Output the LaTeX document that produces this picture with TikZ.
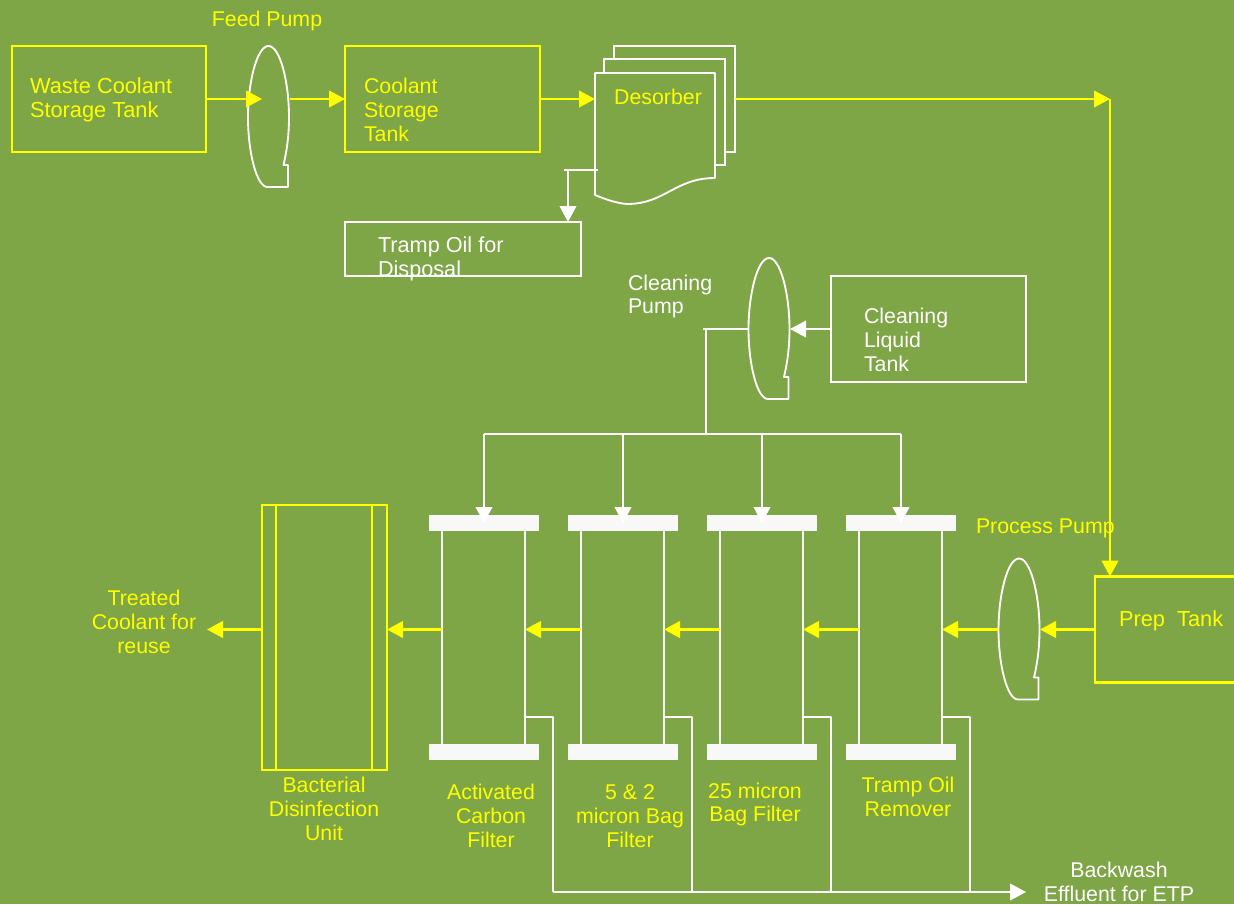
\documentclass[tikz,border=0pt]{standalone}
\usepackage{fontspec}
\setmainfont{Liberation Sans}
\usetikzlibrary{arrows.meta}
\definecolor{bgreen}{HTML}{7EA546}
\definecolor{yel}{HTML}{FFFF00}
\definecolor{barwhite}{HTML}{F8F8F8}
\tikzset{
  x=0.75pt,y=-0.75pt,
  yline/.style={draw=yel,line width=1.65pt},
  wline/.style={draw=white,line width=1.4pt},
  yarrow/.style={yline,-{Triangle[length=12pt,width=12.5pt,fill=yel]}},
  warrow/.style={wline,-{Triangle[length=12pt,width=12.5pt,fill=white]}},
  ybox/.style={rectangle,yline,outer sep=0pt,inner sep=0pt,minimum width=#1},
  wbox/.style={rectangle,wline,outer sep=0pt,inner sep=0pt,minimum width=#1},
  ghost/.style={rectangle,outer sep=0pt,inner sep=0pt,minimum width=#1},
  lab/.style={font=\fontsize{16}{17.9}\selectfont,inner sep=0pt,outer sep=0pt},
  biglab/.style={font=\fontsize{16.35}{17.9}\selectfont,inner sep=0pt,outer sep=0pt},
  ylab/.style={lab,text=yel},
  wlab/.style={lab,text=white},
  fbar/.style={rectangle,fill=barwhite,outer sep=0pt,inner sep=0pt,minimum width=82.5pt,minimum height=12pt},
  tube/.style={rectangle,outer sep=0pt,inner sep=0pt,minimum width=62.25pt,minimum height=171.75pt},
  tubeline/.style={draw=barwhite,line width=1.2pt},
}
\newcommand{\pumpat}[3]{%
  \node[ghost=31.5pt,minimum height=106.5pt] (#1) at (#2,#3) {};
  \draw[wline,shift={(#1.center)},line join=round]
    (0,-71) .. controls (11.5,-71) and (20.5,-35) .. (20.5,0)
    .. controls (20.5,20) and (18,35) .. (15,48) -- (19.5,48) -- (19.5,70) -- (-1,70)
    .. controls (-12,70) and (-20.5,35) .. (-20.5,0)
    .. controls (-20.5,-35) and (-11.5,-71) .. (0,-71) -- cycle;
}
\begin{document}
\begin{tikzpicture}
\fill[bgreen] (0,0) rectangle (1234,904);
\useasboundingbox (0,0) rectangle (1234,904);

% top row
\node[ybox=145.5pt,minimum height=79.5pt] (wct) at (109,99) {};
\node[ybox=146.25pt,minimum height=79.5pt] (cst) at (442.5,99) {};
\pumpat{feed}{268.5}{117}

% desorber sheets
\node[ghost=90.75pt,minimum height=79.5pt] (desback) at (674.5,99) {};
\node[ghost=90pt,minimum height=98.25pt] (des) at (655,138.5) {};
\draw[wline] (614,59) -- (614,46) -- (735,46) -- (735,152) -- (725,152);
\draw[wline] (604,73) -- (604,59) -- (725,59) -- (725,165) -- (715,165);
\draw[wline,line join=round] (595,73) -- (715,73) -- (715,178)
  .. controls (675,178) and (665,204) .. (627,204)
  .. controls (615,203) and (605,199) .. (595,195) -- cycle;

\node[wbox=177pt,minimum height=40.5pt] (tramp) at (463,249) {};
\node[ybox=106pt,minimum height=79.5pt,anchor=west] (prep) at (1095,629.5) {};
\node[wbox=146.25pt,minimum height=79.5pt] (clean) at (928.5,329) {};
\pumpat{cpump}{769}{329}
\pumpat{ppump}{1019}{629.5}

% filters
\foreach \n/\cx/\tx in {1/484/483.5,2/623/622.5,3/762/761.5,4/901/900.5}{
  \node[tube] (tube\n) at (\tx,629.5) {};
  \draw[tubeline] (tube\n.north west) -- (tube\n.south west);
  \draw[tubeline] (tube\n.north east) -- (tube\n.south east);
  \node[fbar] (top\n) at (\cx,523) {};
  \node[fbar] (bot\n) at (\cx,752) {};
}
% disinfection unit
\node[ybox=93.75pt,minimum height=198.75pt] (bac) at (324.5,637.5) {};
\node[ybox=72pt,minimum height=198.75pt] (bacin) at (324,637.5) {};

% yellow connectors
\coordinate (feedin) at (262,99);
\draw[yarrow] (wct.east) -- (feedin);
\draw[yarrow] (feed.east |- wct.east) -- (cst.west);
\draw[yarrow] (cst.east) -- (cst.east -| des.west);
\coordinate (turn) at (1110,99);
\draw[yarrow] (desback.east) -- (turn);
\draw[yarrow] (turn) -- (turn |- prep.north);
\draw[yarrow] (prep.west) -- (ppump.east);
\draw[yarrow] (ppump.west) -- (tube4.east);
\draw[yarrow] (tube4.west) -- (tube3.east);
\draw[yarrow] (tube3.west) -- (tube2.east);
\draw[yarrow] (tube2.west) -- (tube1.east);
\draw[yarrow] (tube1.west) -- (tube1.west -| bac.east);
\coordinate (treated) at (207,629.5);
\draw[yarrow] (treated -| bac.west) -- (treated);

% white connectors
\coordinate (tapa) at (598,170);
\coordinate (tapb) at (564,170);
\coordinate (tapc) at (568,170);
\draw[wline] (tapa) -- (tapb);
\draw[warrow] (tapc) -- (tapc |- tramp.north);
\draw[warrow] (clean.west) -- (cpump.east);
\coordinate (cstub) at (703,329);
\coordinate (cdrop) at (706,329);
\coordinate (bus) at (706,434);
\draw[wline] (cpump.west) -- (cstub);
\draw[wline] (cdrop) -- (bus);
\draw[wline] (bus -| top1.center) -- (bus -| top4.center);
\foreach \n in {1,2,3,4}{
  \draw[warrow] (bus -| top\n.center) -- (top\n.center);
}
\coordinate (washend) at (1026,892);
\foreach \n in {1,2,3,4}{
  \path (tube\n.east) ++(0,87.5) coordinate (wo\n) ++(28,0) coordinate (wc\n);
  \draw[wline,line join=round] (wo\n) -- (wc\n) -- (wc\n |- washend);
}
\draw[warrow] (wc1 |- washend) -- (washend);

% labels
\node[ylab] (lfeed) at (267,21) {Feed Pump};
\node[ylab,biglab,anchor=west,align=left] (lwct) at (30,99.5) {Waste Coolant\\Storage Tank};
\node[ylab,anchor=west,align=left] (lcst) at (364,110) {Coolant\\Storage\\Tank};
\node[ylab] (ldes) at (658,97) {Desorber};
\node[wlab,font=\fontsize{16.25}{17.9}\selectfont,anchor=west,align=left] (ltramp) at (378,258.5) {Tramp Oil for\\Disposal};
\node[wlab,font=\fontsize{16}{16.9}\selectfont,anchor=west,align=left] (lcp) at (628,296.5) {Cleaning\\Pump};
\node[wlab,anchor=west,align=left] (lclean) at (864,339.5) {Cleaning\\Liquid\\Tank};
\node[ylab,anchor=west] (lpp) at (976,528.5) {Process Pump};
\node[ylab,biglab,anchor=west] (lprep) at (1119,620.5) {Prep\ \ Tank};
\node[ylab,align=center] (ltreat) at (144,622) {Treated\\Coolant for\\reuse};
\node[ylab,align=center] (lbac) at (324,809) {Bacterial\\Disinfection\\Unit};
\node[ylab,align=center] (lac) at (491,816) {Activated\\Carbon\\Filter};
\node[ylab,align=center] (l52) at (630,816) {5 \& 2\\micron Bag\\Filter};
\node[ylab,align=center] (l25) at (755,804.5) {25 micron\\Bag Filter};
\node[ylab,align=center] (ltor) at (908,797) {Tramp Oil\\Remover};
\node[wlab,align=center] (lback) at (1119,882) {Backwash\\Effluent for ETP};
\end{tikzpicture}
\end{document}
